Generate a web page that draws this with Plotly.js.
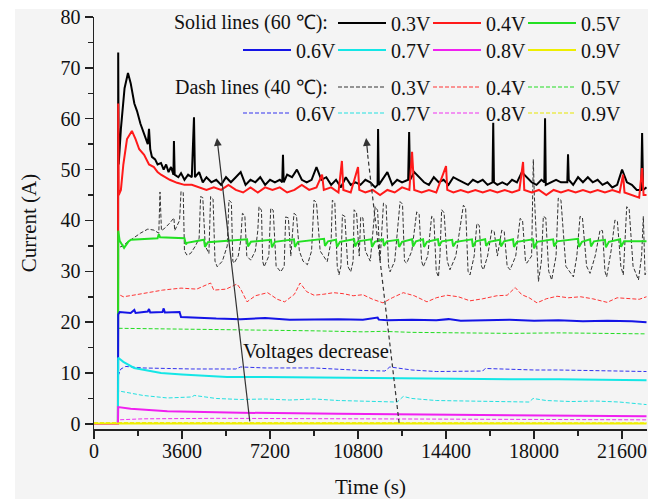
<!DOCTYPE html>
<html>
<head>
<meta charset="utf-8">
<script src="https://cdn.plot.ly/plotly-3.0.1.min.js"></script>
<style>html,body{margin:0;padding:0;background:#fff;}#chart{width:659px;height:499px;}</style>
</head>
<body>
<div id="chart"></div>
<script>
// ---------- DATA ----------
const voltages = ["0.3V","0.4V","0.5V","0.6V","0.7V","0.8V","0.9V"];
const xTickVals = [0,3600,7200,10800,14400,18000,21600];
const xTickText = ["0","3600","7200","10800","14400","18000","21600"];
const yTickVals = [0,10,20,30,40,50,60,70,80];
const yTickText = ["0","10","20","30","40","50","60","70","80"];

// Solid lines (60 °C)
const tS03 = [0,980,990,1010,1100,1250,1390,1500,1650,1760,1900,2050,2200,2250,2300,2370,2500,2600,2740,2850,2950,3050,3150,3250,3270,3300,3450,3560,3700,3850,4000,4090,4130,4300,4450,4600,4800,5000,5200,5400,5600,5800,6000,6200,6400,6600,6800,7000,7200,7400,7600,7700,7730,7760,7900,8100,8300,8500,8700,8900,9100,9300,9500,9700,9900,10100,10300,10500,10700,10900,11100,11300,11500,11600,11620,11650,11800,12000,12200,12400,12600,12850,12890,12930,13100,13300,13500,13700,13900,14100,14300,14500,14700,14900,15100,15300,15500,15700,15900,16100,16300,16330,16360,16500,16700,16900,17100,17300,17500,17700,17900,18100,18300,18420,18450,18480,18700,18900,19100,19360,19390,19420,19600,19800,20000,20200,20400,20600,20800,21000,21200,21400,21600,21800,22000,22200,22380,22420,22460,22600];
const iS03 = [0,0,73,51,58,66,69,67,63,61.5,59,57,55,58,54,52.5,52,51,51.3,50,51,49.5,50.5,49,55.6,49,48.5,49.3,48,49,48.5,60.3,48.5,49.5,47.5,48.5,47.5,48,47,48.5,47.5,48.5,49.5,47,48,47.5,48.5,47,48,47.5,48,47.5,52.9,47.5,49,48.5,50,48,47.5,48,50.5,48,48.5,47,48,46.5,48.5,47,47.5,47,48,47.5,46.5,47,58,47,48,49.5,47,48,47.5,48,57.4,48,49.5,48.5,47.5,47,48.5,47.5,48,47,48.5,48,47.5,47,48,47.5,48,47,47.5,59.2,47.5,47,47.5,47,48,47.5,49.5,48.5,47.5,47,48,47.5,60.1,47,47.5,48,47.5,47.5,53,48,47,48.5,47.5,48.5,47.5,48,47,47.5,46.5,47,50,47.5,47,46,46,57.2,46,46.5];

const tS04 = [0,980,990,1010,1100,1200,1350,1550,1700,1850,2050,2250,2450,2600,2740,2900,3100,3400,3700,4000,4300,4600,4900,5200,5500,5800,6100,6400,6700,7000,7300,7600,7900,8200,8500,8800,9100,9330,9400,9700,10000,10140,10200,10500,10800,10850,11100,11400,11700,12000,12300,12600,12900,13010,13100,13400,13700,14000,14400,14450,14700,15000,15300,15600,15900,16200,16500,16800,17100,17400,17550,17600,17900,18200,18500,18800,19100,19400,19700,20000,20300,20600,20900,21200,21500,21640,21700,22000,22300,22420,22480,22600];
const iS04 = [0,0,63,45,46,51,56,57.6,56,54,52.9,51,50.5,49.5,49,48.5,48,47.4,47,47,46.5,46,46.5,46,47,46,45.5,46.5,45.5,46.5,46,46.5,45.5,46,47,46,46.5,49,46,46.5,45.5,51.7,46,45.5,50.5,46,45.5,46,45,46,45.5,46.5,46,53.5,46,45.5,46,45.5,50.7,46,45.5,46,45.5,46,45.5,46,45.5,46,45.5,46,51.5,46,45.5,46,45,46,45.5,46,45.5,46,45.5,46,45.5,46,45.5,49,45.5,45,44.5,50.3,45,45];

const tS05 = [0,980,990,1050,1230,1400,1510,2000,2600,2650,2700,3700,3760,3800,4500,4540,4660,6260,6300,6420,7240,7280,7400,8180,8220,8340,9410,9450,9570,9900,9940,10060,10640,10680,10800,11330,11370,11490,11820,11860,11980,12440,12480,12600,13010,13050,13170,13460,13500,13620,14070,14110,14230,14650,14690,14810,15460,15500,15620,16000,16040,16160,16610,16650,16770,17140,17180,17300,17960,18000,18120,18780,18820,18940,19800,19840,19960,20290,20330,20450,20900,20940,21060,21520,21560,21680,22600];
const iS05 = [0,0,38,36,34.6,35.8,36.2,36.3,36.5,37.3,36.7,36.5,35.3,35.6,36.2,34.8,35.7,36.3,34.9,35.8,36.2,34.7,35.8,36.3,34.8,35.8,36.4,35.0,35.9,36.2,34.8,35.8,36.3,34.9,35.9,36.3,34.8,35.8,36.3,35.0,35.9,36.2,34.8,35.8,36.3,34.9,35.9,36.3,34.8,35.8,36.3,35.0,35.9,36.2,34.9,35.8,36.3,34.8,35.9,36.3,35.0,35.8,36.2,34.9,35.9,36.3,34.8,35.8,36.3,34.5,35.8,36.3,34.9,35.9,36.4,34.8,35.8,36.3,34.9,35.9,36.2,34.7,35.8,36.3,34.8,35.9,35.9];

const tS06 = [0,980,990,1050,1500,1600,1650,1700,2200,2250,2300,2800,2850,2900,3500,3560,4000,5000,6000,7000,8000,9000,10000,11000,11600,11650,12000,13000,14000,14500,15000,16000,17000,18000,19000,20000,21000,22000,22600];
const iS06 = [0,0,21.5,22,21.8,22.3,22.4,21.8,22.1,22.6,21.9,22.0,22.7,21.9,22.0,21.0,20.9,20.7,20.6,20.8,20.5,20.6,20.6,20.5,20.9,20.5,20.4,20.5,20.4,20.6,20.3,20.4,20.5,20.3,20.4,20.2,20.3,20.2,20.0];

const tS07 = [0,980,990,1200,1640,2200,2740,3600,4500,5440,7000,9000,10920,13000,15000,17000,19000,21000,22600];
const iS07 = [0,0,13.0,12.2,11.0,10.5,10.0,9.7,9.4,9.2,9.2,9.1,9.0,8.9,8.9,8.8,8.8,8.7,8.6];

const tS08 = [0,980,990,1500,3000,6000,10000,15000,22600];
const iS08 = [0,0,3.3,3.0,2.5,2.2,2.0,1.8,1.5];

const tS09 = [0,5000,10000,15000,22600];
const iS09 = [0.1,0.1,0.1,0.1,0.1];

// Dash lines (40 °C)
const tD03 = [0,980,990,1100,1300,1600,1900,2200,2450,2650,2700,2760,2900,3100,3270,3300,3400,3500,3560,3650,3700,3800,3950,4150,4300,4360,4450,4550,4700,4770,4870,4950,5040,5250,5450,5520,5620,5680,5730,5900,6000,6070,6170,6250,6410,6600,6700,6750,6850,6900,6960,7150,7230,7330,7450,7640,7780,7840,7950,8050,8180,8280,8400,8550,8730,8900,9000,9100,9250,9540,9700,9750,9850,9950,10020,10100,10160,10260,10380,10500,10600,10640,10740,10850,10910,11000,11100,11300,11500,11600,11700,11840,11950,12050,12110,12300,12520,12620,12700,12790,13000,13200,13300,13400,13470,13650,13810,13900,14000,14090,14150,14220,14320,14450,14560,14800,15110,15200,15300,15380,15550,15660,15760,15850,15930,16100,16270,16370,16500,16680,16780,16900,17020,17250,17430,17530,17650,17700,17900,17970,18010,18100,18180,18300,18380,18480,18600,18720,18900,18990,19100,19300,19610,19750,19880,19980,20150,20290,20500,20700,20800,20900,20970,21150,21310,21410,21550,21650,21700,21790,21890,22050,22270,22400,22470,22540,22600];
const iD03 = [0,0,35,34.8,35.5,36.5,37.5,38.3,38.1,37.5,45.6,38,38.5,39.5,40.5,38,39,40,45.7,45.5,34,33.2,33.5,35,36.5,44.7,44.5,35,33.5,44.7,44.2,32,30.9,32,35,44.0,43.5,32,31.6,33,36,41.4,41,33,32.2,34,38,42.7,42,32,30.9,33,42.4,42,31,29.9,31,40.7,40.5,33,41.4,41,34,32,31.3,34,44.0,43.5,34,31.9,36,44.0,43.5,31,29.3,31,41.1,40.8,31,29.9,32,42.1,41.5,33,40.7,40.5,34,32,42.7,42,32,43.4,43,31,29.9,32,43.7,43.2,32,31.6,34,41.7,41.2,32,30.9,33,40.8,40.5,30,28.9,33,42.1,41.5,32,30.3,33,43.0,42.5,30,29.3,33,39.4,39,31,30.3,33,38.1,37.8,33,38.1,37.8,31,30.3,33,40.4,40,32,31.6,33,52.0,45.0,36,28.0,32,40.8,40.5,30,28.3,33,44.4,44,31,28.9,33,40.8,40.5,31,29.6,33,38.1,38,30,28.9,34,40.1,39.8,31,29.3,35,42.7,42.3,31,28.3,33,40.8,29.3,30];

const tD04 = [0,980,990,1200,1600,2200,2800,3560,4200,4770,4900,5400,5850,6000,6260,6600,7100,7500,7800,8200,8430,8700,9000,9400,9800,10200,10600,11000,11400,11820,12200,12650,13100,13620,14000,14440,14900,15380,15900,16480,16900,17230,17500,17800,18120,18500,18940,19400,19900,20400,20990,21400,21900,22300,22600];
const iD04 = [0,0,25.5,25.0,25.3,25.8,26.3,26.7,26.5,27.7,26.3,26.5,27.5,26.5,24.0,25.2,25.8,24.5,24.0,25.5,27.7,26,25.3,25.5,25.8,25.6,25.2,25.4,24.5,23.8,24.8,25.8,25.2,24.0,24.8,25.3,25.0,24.2,24.6,25.2,25.3,26.8,25.4,24.8,23.8,24.6,25.1,24.8,25.0,24.6,23.9,24.8,24.6,24.5,25.0];

const tD05 = [0,980,990,3000,5000,7000,9000,11000,11800,13000,15000,17000,19000,21000,22600];
const iD05 = [0,0,18.8,18.7,18.6,18.4,18.3,18.1,18.2,18.0,17.9,17.8,17.9,17.8,17.7];

const tD06 = [0,980,990,1100,1300,2000,3000,4000,5800,6000,7000,9000,11000,11900,12100,13000,14000,15000,15900,16000,17000,18000,19000,20000,21000,22600];
const iD06 = [0,0,9.5,10.8,11.3,11.0,10.9,10.8,10.8,11.2,11.0,11.0,10.5,10.4,11.2,10.6,10.3,10.3,10.4,10.9,10.7,10.6,10.6,10.5,10.4,10.3];

const tD07 = [0,980,990,1300,2000,3000,4000,4100,5000,6000,7000,8000,9000,10000,11000,12400,12650,13000,14000,15000,16000,17800,17960,18500,19500,20500,21500,22600];
const iD07 = [0,0,6.5,6.2,5.6,5.1,5.3,5.6,5.0,4.8,4.9,4.7,4.9,4.6,4.5,4.3,5.4,5.0,4.6,4.5,4.4,4.3,5.0,4.6,4.4,4.5,4.3,3.8];

const tD08 = [0,980,990,2000,5000,10000,15000,22600];
const iD08 = [0,0,0.8,1.0,1.1,1.0,0.9,0.8];

const tD09 = [0,5000,10000,15000,22600];
const iD09 = [0.25,0.25,0.2,0.2,0.2];

const colors = ["#000000","#ff1a1a","#22e022","#1414e6","#14e6e6","#f020f0","#eeee00"];
const dashColors = ["#333333","#ff3333","#22dd22","#3333ee","#22e0e0","#f030f0","#e6e600"];

// ---------- BUILD ----------
const FONT = "Liberation Serif, Times New Roman, serif";
const solidT = [tS03,tS04,tS05,tS06,tS07,tS08,tS09];
const solidI = [iS03,iS04,iS05,iS06,iS07,iS08,iS09];
const dashT = [tD03,tD04,tD05,tD06,tD07,tD08,tD09];
const dashI = [iD03,iD04,iD05,iD06,iD07,iD08,iD09];

const L = 94, R = 647, T = 17, B = 429;
const W = R - L, H = B - T;
const px = v => (v - L) / W;     // pixel -> paper x
const py = v => (B - v) / H;     // pixel -> paper y

// legend placement (pixel positions of each legend entry's left edge / row centre)
const entryX = [333, 428, 523, 238, 333, 428, 523];
const solidRowY = [23, 23, 23, 50, 50, 50, 50];
const dashRowY = [87, 87, 87, 113, 113, 113, 113];

const legBase = {
  orientation: 'h', bgcolor: 'rgba(0,0,0,0)', borderwidth: 0,
  font: {family: FONT, size: 20, color: '#111'},
  itemwidth: 48, xanchor: 'left', yanchor: 'middle'
};

const traces = [];
const legends = {};
for (let k = 0; k < 7; k++) {
  const id = 'legend' + (k + 8);
  traces.push({
    type: 'scatter', mode: 'lines', x: dashT[k], y: dashI[k], name: voltages[k],
    legend: id,
    line: {color: dashColors[k], width: 1, dash: '4px,2px'},
    hoverinfo: 'skip'
  });
  legends[id] = Object.assign({}, legBase, {x: px(entryX[k]), y: py(dashRowY[k])});
}
for (let k = 0; k < 7; k++) {
  const id = k === 0 ? 'legend' : 'legend' + (k + 1);
  traces.push({
    type: 'scatter', mode: 'lines', x: solidT[k], y: solidI[k], name: voltages[k],
    legend: id,
    line: {color: colors[k], width: 2},
    hoverinfo: 'skip'
  });
  legends[id] = Object.assign({}, legBase, {x: px(entryX[k]), y: py(solidRowY[k])});
}

const axisCommon = {
  showline: true, linecolor: '#222', linewidth: 1.5, mirror: false,
  ticks: 'outside', ticklen: 8, tickwidth: 1.5, tickcolor: '#222',
  showgrid: false, zeroline: false, automargin: false,
  tickfont: {family: FONT, size: 20, color: '#111'}
};

const layout = Object.assign({
  width: 659, height: 499,
  margin: {l: L, r: 659 - R, t: T, b: 499 - B, autoexpand: false},
  paper_bgcolor: '#ffffff', plot_bgcolor: 'rgba(0,0,0,0)',
  showlegend: true,
  hovermode: false,
  xaxis: Object.assign({}, axisCommon, {
    range: [0, 22620], tickmode: 'array', tickvals: xTickVals, ticktext: xTickText,
    ticklabelstandoff: -5,
    minor: {dtick: 1800, tick0: 0, ticks: 'outside', ticklen: 5, tickwidth: 1.5, tickcolor: '#222', showgrid: false},
    title: {text: 'Time (s)', font: {family: FONT, size: 21, color: '#111'}, standoff: 20}
  }),
  yaxis: Object.assign({}, axisCommon, {
    range: [-1, 80], tickmode: 'array', tickvals: yTickVals, ticktext: yTickText,
    minor: {dtick: 5, tick0: 0, ticks: 'outside', ticklen: 5, tickwidth: 1.5, tickcolor: '#222', showgrid: false},
    title: {text: 'Current (A)', font: {family: FONT, size: 21, color: '#111'}, standoff: 18}
  }),
  shapes: [
    {type: 'rect', xref: 'paper', yref: 'paper', x0: px(15), x1: px(648), y0: py(499), y1: py(9),
     fillcolor: '#f4f4f4', line: {width: 0}, layer: 'below'},
    {type: 'line', xref: 'x', yref: 'y', x0: 12480, y0: 0.2, x1: 11180, y1: 53.5,
     line: {color: '#333', width: 1.2, dash: '4px,3px'}}
  ],
  annotations: [
    {xref: 'paper', yref: 'paper', x: px(330), y: py(23), xanchor: 'right', yanchor: 'middle',
     text: 'Solid lines (60 ℃):', showarrow: false, font: {family: FONT, size: 20, color: '#111'}},
    {xref: 'paper', yref: 'paper', x: px(330), y: py(87), xanchor: 'right', yanchor: 'middle',
     text: 'Dash lines (40 ℃):', showarrow: false, font: {family: FONT, size: 20, color: '#111'}},
    {xref: 'x', yref: 'y', x: 6000, y: 14.2, xanchor: 'left', yanchor: 'middle',
     text: 'Voltages decrease', showarrow: false, font: {family: FONT, size: 20.5, color: '#111'}},
    {xref: 'x', yref: 'y', axref: 'x', ayref: 'y', x: 5030, y: 56.2, ax: 6380, ay: 0.2,
     text: '', showarrow: true, arrowhead: 2, arrowsize: 1.3, arrowwidth: 1.2, arrowcolor: '#333'},
    {xref: 'x', yref: 'y', axref: 'x', ayref: 'y', x: 11130, y: 56.2, ax: 11200, ay: 53.0,
     text: '', showarrow: true, arrowhead: 2, arrowsize: 1.3, arrowwidth: 1.2, arrowcolor: '#333'}
  ]
}, legends);

Plotly.newPlot('chart', traces, layout, {displayModeBar: false, staticPlot: true});
</script>
</body>
</html>
